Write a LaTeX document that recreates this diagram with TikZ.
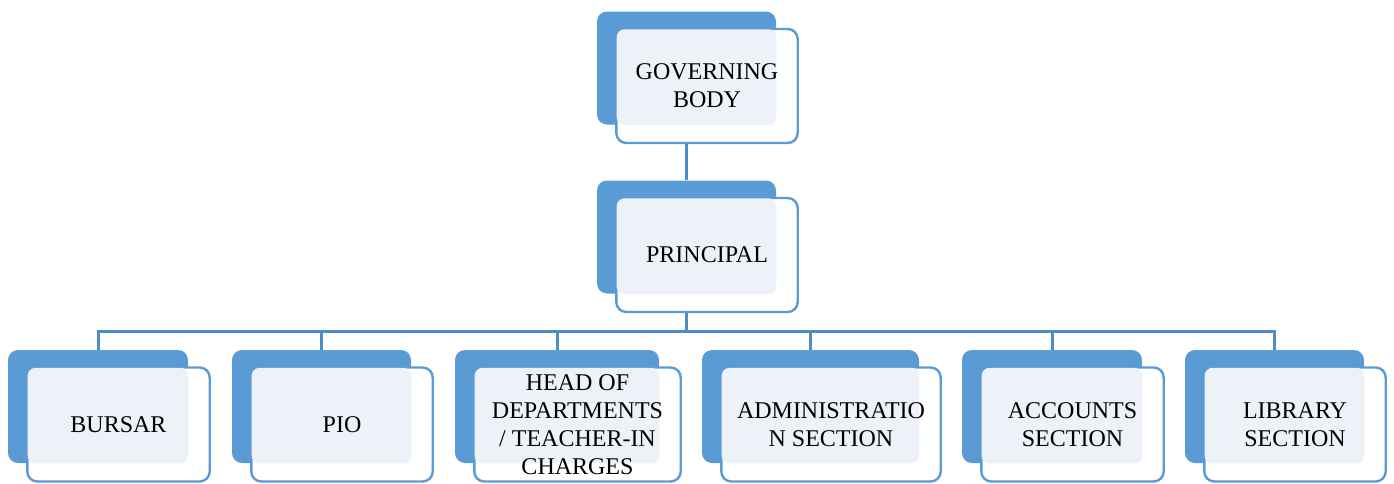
\documentclass[tikz,border=0pt]{standalone}
\usepackage{fontspec}
\setmainfont{Liberation Serif}
\definecolor{orgblue}{HTML}{5B9BD5}
\definecolor{orgline}{HTML}{4F8BC9}
\definecolor{orglight}{HTML}{EDF2F9}

\begin{document}
\begin{tikzpicture}[x=0.5pt, y=-0.5pt,
    backbox/.style={fill=orgblue, rounded corners=5pt, inner sep=0pt, minimum height=56.5pt},
    frontbox/.style={draw=orgblue, line width=1.2pt, fill=white, rounded corners=5pt, inner sep=0pt, minimum height=57pt},
    boxtext/.style={align=center, font=\fontsize{12}{14}\selectfont},
    link/.style={draw=orgline, line width=1.5pt}]
  \useasboundingbox (0,0) rectangle (1394,483);

  % boxes: name / x / y / width / text
  \foreach \name/\x/\y/\w/\txt in {
      gov/686.5/68/89.5/{GOVERNING\\BODY},
      prin/686.5/237/89.5/PRINCIPAL,
      bursar/98/406.5/90/BURSAR,
      pio/321.5/406.5/89.5/PIO,
      hod/557/406.5/102/{HEAD OF\\DEPARTMENTS\\/ TEACHER-IN\\CHARGES},
      admin/810.5/406.5/108.5/{ADMINISTRATIO\\N SECTION},
      acc/1052/406.5/90/{ACCOUNTS\\SECTION},
      lib/1274.5/406.5/89.5/{LIBRARY\\SECTION}}
  {
    \pgfmathsetmacro\fw{\w+1.2}
    \node[backbox, minimum width=\w pt] (\name back) at (\x,\y) {};
    \node[frontbox, minimum width=\fw pt] (\name front) at ([shift={(20.5,18)}]\name back.center) {};
    \fill[orglight, rounded corners=4pt] ([shift={(1.5,1.5)}]\name front.north west) rectangle (\name back.south east);
    \node[boxtext] (\name) at (\name front.center) {\txt};
  }

  % connectors
  \coordinate (bus) at (686.5,331);
  \draw[link] (govback.south |- govfront.south) -- (prinback.north);
  \draw[link] (prinback.south |- prinfront.south) -- (bus);
  \foreach \name in {bursar,pio,hod,admin,acc,lib}
    \draw[link] (\name back.north) |- (bus);
\end{tikzpicture}
\end{document}
